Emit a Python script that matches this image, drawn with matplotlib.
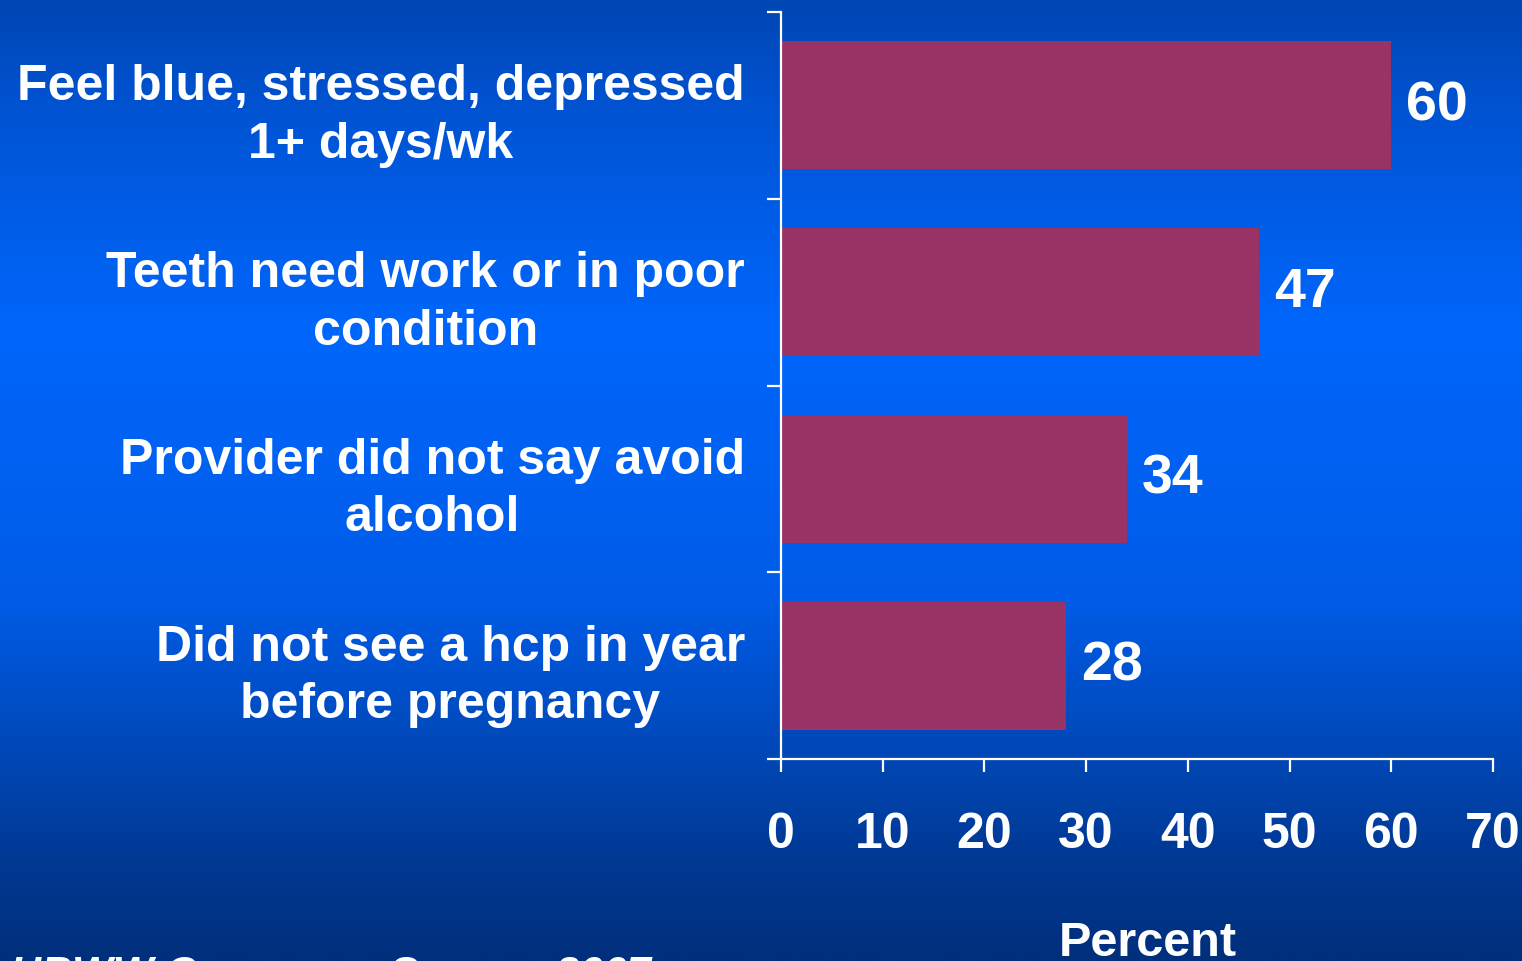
import numpy as np
import matplotlib
matplotlib.use("Agg")
import matplotlib.pyplot as plt
from matplotlib.colors import LinearSegmentedColormap

# Survey results
categories = [
    "Feel blue, stressed, depressed\n1+ days/wk",
    "Teeth need work or in poor\ncondition",
    "Provider did not say avoid\nalcohol",
    "Did not see a hcp in year\nbefore pregnancy",
]
percent = [60, 47, 34, 28]
x_ticks = [0, 10, 20, 30, 40, 50, 60, 70]
x_label = "Percent"
source_note = "HBWW Consumer Survey, 2007"

plt.rcParams["font.family"] = ["Liberation Sans", "DejaVu Sans"]
plt.rcParams["font.weight"] = "bold"

W, H, DPI = 1522, 961, 100
fig = plt.figure(figsize=(W / DPI, H / DPI), dpi=DPI)

# Vertical blue gradient backdrop
bg = fig.add_axes([0, 0, 1, 1], zorder=-10)
bg.set_axis_off()
stops = [(0.0, "#0046b4"), (0.12, "#0054d4"), (0.34, "#0066fc"),
         (0.62, "#005ce8"), (0.78, "#0048b8"), (0.90, "#003892"), (1.0, "#002f7c")]
cmap = LinearSegmentedColormap.from_list("bluebg", stops)
grad = np.linspace(0, 1, 512).reshape(-1, 1)
bg.imshow(grad, aspect="auto", cmap=cmap, extent=[0, 1, 0, 1], origin="upper")

ax = fig.add_axes([781 / W, 1 - 759 / H, (1493 - 781) / W, (759 - 12) / H])
ax.patch.set_alpha(0)

ypos = np.arange(len(categories))
ax.barh(ypos, percent, height=0.685, color="#993366", zorder=2)
ax.set_xlim(0, 70)
ax.set_ylim(len(categories) - 0.5, -0.5)

for y, v in zip(ypos, percent):
    ax.annotate(str(v), xy=(v, y), xytext=(15, -1), textcoords="offset pixels",
                ha="left", va="center", color="white", fontsize=40, fontweight="bold")

for side in ("top", "right"):
    ax.spines[side].set_visible(False)
for side in ("left", "bottom"):
    ax.spines[side].set_color("white")
    ax.spines[side].set_linewidth(1.6)

ax.set_xticks(x_ticks)
ax.set_xticklabels([str(t) for t in x_ticks])
ax.tick_params(axis="x", colors="white", direction="out", length=9.5, width=1.6,
               pad=29, labelsize=36)

ax.set_yticks(ypos)
ax.set_yticklabels(categories, fontsize=36, linespacing=1.32, multialignment="center")
ax.tick_params(axis="y", which="major", length=0, pad=26, colors="white")
for lbl in ax.get_yticklabels():
    lbl.set_y(lbl.get_position()[1])
ax.set_yticks(np.arange(-0.5, len(categories), 1.0), minor=True)
ax.tick_params(axis="y", which="minor", direction="out", length=10, width=1.6, colors="white")

fig.text(1148 / W, 1 - 921 / H, x_label, ha="center", va="top", color="white",
         fontsize=35, fontweight="bold")
fig.text(10 / W, 1 - 955 / H, source_note, ha="left", va="top", color="white",
         fontsize=31, fontweight="bold", fontstyle="italic")

fig.savefig("out.png", dpi=DPI)
